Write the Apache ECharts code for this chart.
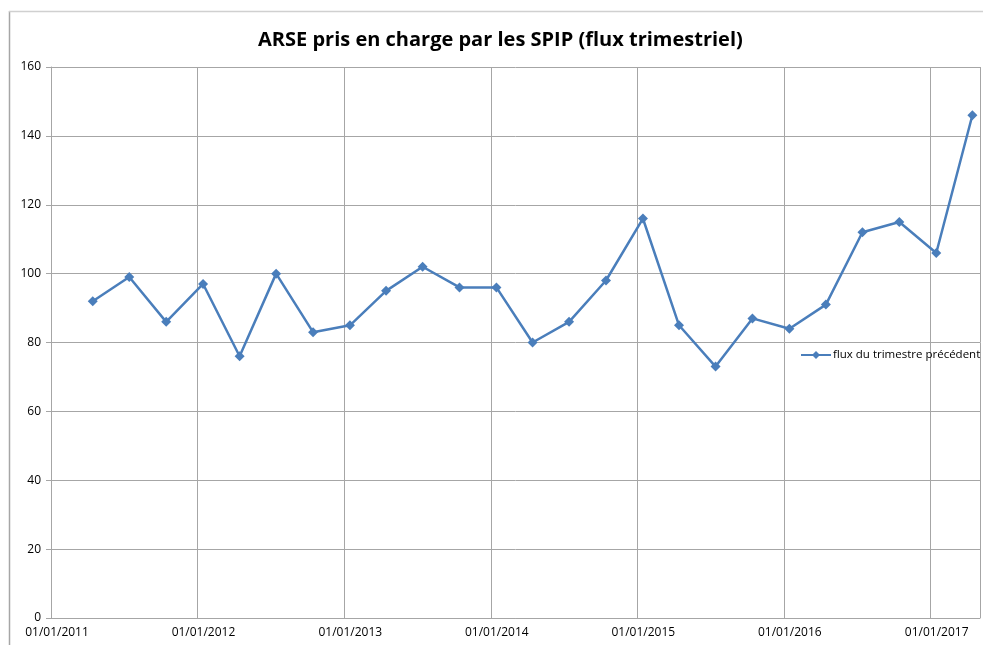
<!DOCTYPE html>
<html>
<head>
<meta charset="utf-8">
<script src="https://cdn.jsdelivr.net/npm/echarts@6/dist/echarts.min.js"></script>
<style>html,body{margin:0;padding:0;background:#fff;}#c{width:983px;height:645px;}</style>
</head>
<body>
<div id="c"></div>
<script>
var titleText = 'ARSE pris en charge par les SPIP (flux trimestriel)';
var seriesName = 'flux du trimestre précédent';
var dates = ['2011-04-15','2011-07-15','2011-10-15',
  '2012-01-15','2012-04-15','2012-07-15','2012-10-15',
  '2013-01-15','2013-04-15','2013-07-15','2013-10-15',
  '2014-01-15','2014-04-15','2014-07-15','2014-10-15',
  '2015-01-15','2015-04-15','2015-07-15','2015-10-15',
  '2016-01-15','2016-04-15','2016-07-15','2016-10-15',
  '2017-01-15','2017-04-15'];
var values = [92, 99, 86, 97, 76, 100, 83, 85, 95, 102, 96, 96, 80, 86, 98, 116, 85, 73, 87, 84, 91, 112, 115, 106, 146];
var xMin = '2011-01-01';
var xMax = '2017-05-04';
var yMin = 0, yMax = 160, yStep = 20;

var data = dates.map(function(d, i){ return [d, values[i]]; });
function pad(n){ return (n < 10 ? '0' : '') + n; }

var chart = echarts.init(document.getElementById('c'), null, {renderer: 'canvas'});
chart.setOption({
  animation: false,
  backgroundColor: '#fff',
  title: {
    text: titleText, left: 253, top: 25,
    textStyle: {fontFamily: 'Open Sans', fontWeight: 'bold', fontSize: 20, color: '#000'}
  },
  graphic: [
    {type: 'line', shape: {x1: 9.5, y1: 11, x2: 9.5, y2: 645}, style: {stroke: '#a6a6a6', lineWidth: 1.5}, silent: true},
    {type: 'line', shape: {x1: 9, y1: 11.5, x2: 983, y2: 11.5}, style: {stroke: '#d0d0d0', lineWidth: 1.5}, silent: true}
  ],
  legend: {
    left: 795, top: 344, itemWidth: 30, itemHeight: 10, itemGap: 4,
    textStyle: {fontFamily: 'Open Sans', fontSize: 11.5, color: '#000', padding: [0,0,0,-3]},
    data: [{name: seriesName}]
  },
  grid: {left: 51, right: 3, top: 67, bottom: 27, containLabel: false},
  xAxis: {
    type: 'time', min: xMin, max: xMax,
    minInterval: 365 * 86400000, maxInterval: 366 * 86400000,
    axisLine: {show: true, lineStyle: {color: '#a6a6a6'}},
    axisTick: {show: false},
    splitLine: {show: true, lineStyle: {color: '#a6a6a6', width: 1}},
    axisLabel: {
      showMaxLabel: false,
      fontFamily: 'Open Sans', fontSize: 12, color: '#000', margin: 9,
      padding: [0,0,0,12],
      formatter: function(v){ var d = new Date(v); return pad(d.getDate()) + '/' + pad(d.getMonth()+1) + '/' + d.getFullYear(); }
    }
  },
  yAxis: {
    type: 'value', min: yMin, max: yMax, interval: yStep,
    axisLine: {show: true, lineStyle: {color: '#a6a6a6'}},
    axisTick: {show: true, length: 5, lineStyle: {color: '#a6a6a6'}},
    splitLine: {show: true, lineStyle: {color: '#a6a6a6', width: 1}},
    axisLabel: {fontFamily: 'Open Sans', fontSize: 12, color: '#000', margin: 10}
  },
  series: [{
    name: seriesName, type: 'line', data: data,
    symbol: 'diamond', symbolSize: 10,
    lineStyle: {color: '#4a7ebb', width: 2.5},
    itemStyle: {color: '#4a7ebb'}
  }]
});
</script>
</body>
</html>
